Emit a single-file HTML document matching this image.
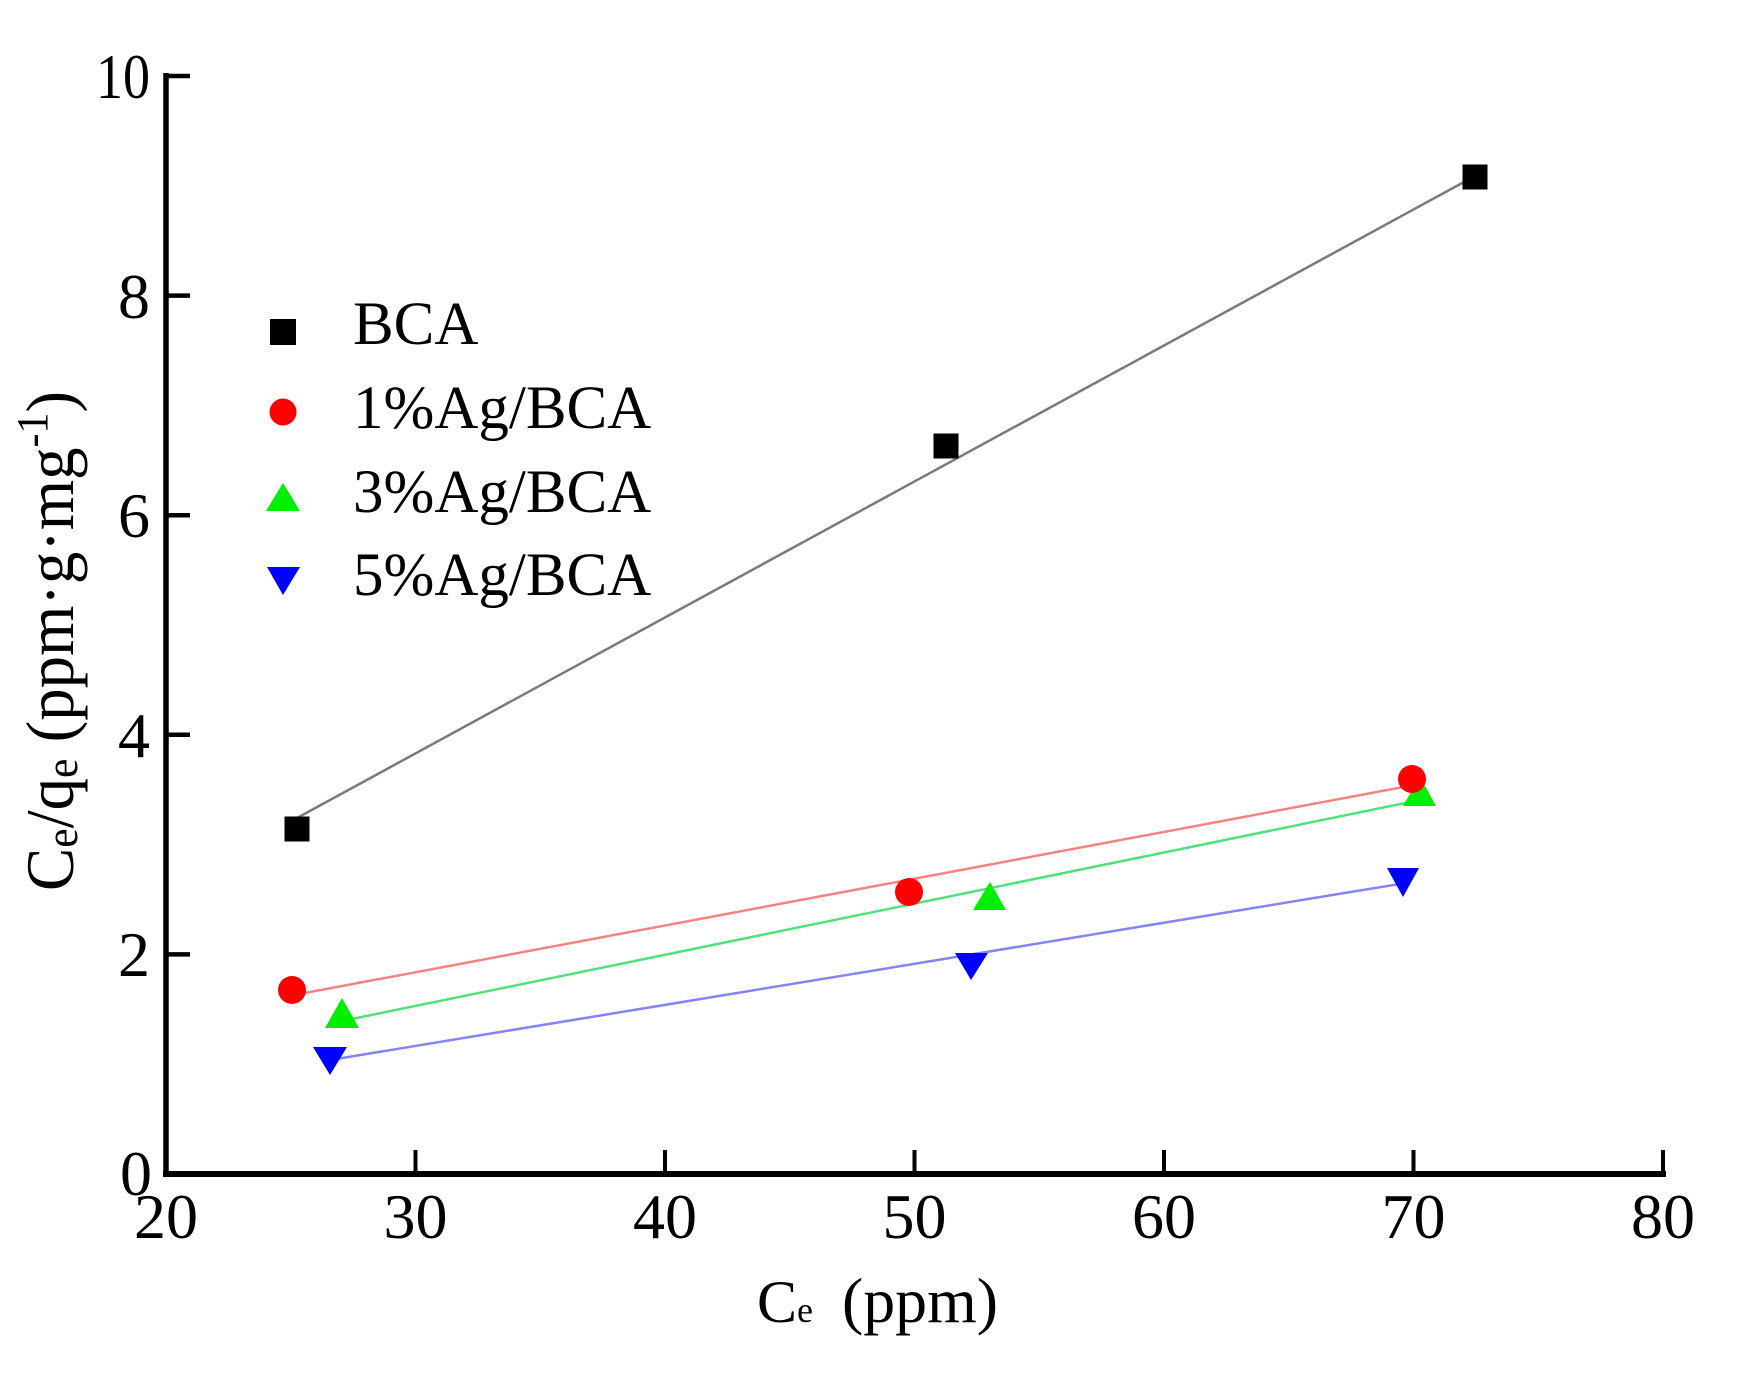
<!DOCTYPE html>
<html>
<head>
<meta charset="utf-8">
<style>
  html, body { margin: 0; padding: 0; background: #ffffff; }
  svg { display: block; }
  text { font-family: "Liberation Serif", "Times New Roman", serif; fill: #000; }
</style>
</head>
<body>
<svg width="1755" height="1374" viewBox="0 0 1755 1374" xmlns="http://www.w3.org/2000/svg">
  <rect x="0" y="0" width="1755" height="1374" fill="#ffffff"/>

  <!-- Axes -->
  <line x1="166" y1="73" x2="166" y2="1177" stroke="#000" stroke-width="5.5"/>
  <line x1="163" y1="1174" x2="1666" y2="1174" stroke="#000" stroke-width="6"/>

  <!-- Y ticks -->
  <g stroke="#000" stroke-width="4.5">
    <line x1="166" y1="76" x2="190" y2="76"/>
    <line x1="166" y1="295.6" x2="190" y2="295.6"/>
    <line x1="166" y1="515.2" x2="190" y2="515.2"/>
    <line x1="166" y1="734.8" x2="190" y2="734.8"/>
    <line x1="166" y1="954.4" x2="190" y2="954.4"/>
  </g>
  <!-- X ticks -->
  <g stroke="#000" stroke-width="4">
    <line x1="415.5" y1="1174" x2="415.5" y2="1150"/>
    <line x1="665" y1="1174" x2="665" y2="1150"/>
    <line x1="914.5" y1="1174" x2="914.5" y2="1150"/>
    <line x1="1164" y1="1174" x2="1164" y2="1150"/>
    <line x1="1413.5" y1="1174" x2="1413.5" y2="1150"/>
    <line x1="1663" y1="1174" x2="1663" y2="1150"/>
  </g>

  <!-- Y tick labels -->
  <g font-size="64" text-anchor="end">
    <text x="150" y="98" textLength="54" lengthAdjust="spacingAndGlyphs">10</text>
    <text x="150" y="318">8</text>
    <text x="150" y="537">6</text>
    <text x="150" y="757">4</text>
    <text x="150" y="976">2</text>
    <text x="152" y="1195">0</text>
  </g>
  <!-- X tick labels -->
  <g font-size="64" text-anchor="middle">
    <text x="166" y="1238">20</text>
    <text x="415.5" y="1238">30</text>
    <text x="665" y="1238">40</text>
    <text x="914.5" y="1238">50</text>
    <text x="1164" y="1238">60</text>
    <text x="1413.5" y="1238">70</text>
    <text x="1663" y="1238">80</text>
  </g>

  <!-- X axis title -->
  <text x="757" y="1322" font-size="60">C<tspan font-size="36">e</tspan></text>
  <text x="842" y="1322" font-size="64" textLength="156" lengthAdjust="spacingAndGlyphs">(ppm)</text>

  <!-- Y axis title -->
  <text transform="translate(73,641) rotate(-90)" text-anchor="middle" font-size="68" textLength="500" lengthAdjust="spacingAndGlyphs">C<tspan font-size="46" dy="4">e</tspan><tspan dy="-4">/q</tspan><tspan font-size="46" dy="4">e</tspan><tspan dy="-4"> (ppm·g·mg</tspan><tspan font-size="44" dy="-26">-1</tspan><tspan dy="26">)</tspan></text>

  <!-- Fit lines -->
  <line x1="297" y1="818" x2="1475" y2="176" stroke="#7a7a7a" stroke-width="2.5"/>
  <line x1="292" y1="995.4" x2="1412" y2="785.4" stroke="#ff8080" stroke-width="2.5"/>
  <line x1="342" y1="1021" x2="1420" y2="800" stroke="#4fe27c" stroke-width="2.5"/>
  <line x1="330" y1="1060" x2="1403" y2="883.4" stroke="#8484ff" stroke-width="2.5"/>

  <!-- BCA squares -->
  <g fill="#000">
    <rect x="284.5" y="816.5" width="25" height="25"/>
    <rect x="933.5" y="433.5" width="25" height="25"/>
    <rect x="1462.5" y="164.5" width="25" height="25"/>
  </g>
  <!-- 3% green up triangles -->
  <g fill="#00ee00">
    <polygon points="325,1028 359,1028 342,998"/>
    <polygon points="973,910 1006,910 990,882"/>
    <polygon points="1403,806 1436,806 1420,777"/>
  </g>
  <!-- 1% red circles -->
  <g fill="#ff0000">
    <circle cx="292" cy="990" r="14"/>
    <circle cx="909" cy="892" r="14"/>
    <circle cx="1412" cy="779" r="14"/>
  </g>
  <!-- 5% blue down triangles -->
  <g fill="#0000ff">
    <polygon points="313,1047 347,1047 330,1075"/>
    <polygon points="955,953 988,953 971,980"/>
    <polygon points="1387,868 1419,868 1403,897"/>
  </g>

  <!-- Legend -->
  <rect x="270" y="319" width="26" height="26" fill="#000"/>
  <circle cx="283" cy="412" r="13.5" fill="#ff0000"/>
  <polygon points="266,511 300,511 283,483" fill="#00ee00"/>
  <polygon points="267,567 300,567 283,595" fill="#0000ff"/>
  <g font-size="61">
    <text x="353" y="344">BCA</text>
    <text x="353" y="428">1%Ag/BCA</text>
    <text x="353" y="512">3%Ag/BCA</text>
    <text x="353" y="595">5%Ag/BCA</text>
  </g>
</svg>
</body>
</html>
